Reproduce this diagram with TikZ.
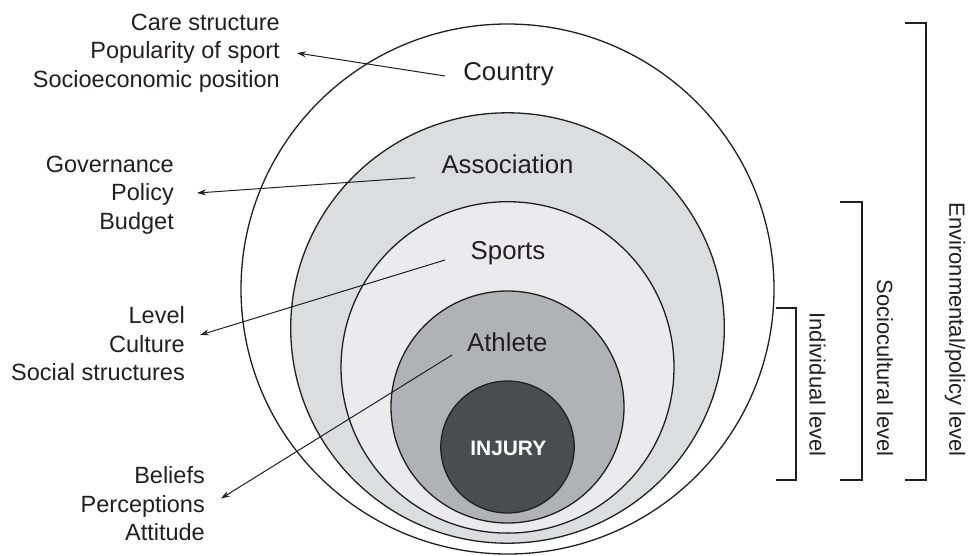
\documentclass[tikz,border=0pt]{standalone}
\usepackage{fontspec}
\setmainfont{Liberation Sans}
\usetikzlibrary{arrows.meta}
\definecolor{ink}{HTML}{231F20}
\definecolor{assocfill}{HTML}{DCDDDF}
\definecolor{sportfill}{HTML}{EBEBED}
\definecolor{athlfill}{HTML}{B1B2B5}
\definecolor{injfill}{HTML}{4B4C4F}
\begin{document}
\begin{tikzpicture}[x=1pt,y=-1pt,
  ring/.style={draw=ink,line width=1.3pt},
  circlabel/.style={anchor=base,inner sep=0pt,text=ink,font=\fontsize{25.8}{30}\selectfont},
  sidelabel/.style={anchor=east,inner sep=0pt,align=right,text=ink,font=\fontsize{23.5}{28.5}\selectfont},
  levellabel/.style={anchor=east,rotate=-90,inner sep=0pt,text=ink,font=\fontsize{22}{26}\selectfont},
  arr/.style={draw=ink,line width=1pt,-{Stealth[length=9pt,width=6pt]}},
  bracket/.style={draw=ink,line width=1.3pt}]
\useasboundingbox (0,0) rectangle (968,555);
% circles
\draw[ring,fill=white] (507.5,289) ellipse [x radius=266.5pt, y radius=265pt];
\draw[ring,fill=assocfill] (507.5,328) ellipse [x radius=216.8pt, y radius=215.2pt];
\draw[ring,fill=sportfill] (507.5,367.4) ellipse [x radius=166.5pt, y radius=165.7pt];
\draw[ring,fill=athlfill] (507.5,407) ellipse [x radius=116.5pt, y radius=116pt];
\draw[ring,fill=injfill] (507.5,447) ellipse [x radius=66.7pt, y radius=66pt];
% circle labels
\node[circlabel] (country) at (508.5,80.5) {Country};
\node[circlabel] (assoc) at (507.5,173.5) {Association};
\node[circlabel] (sports) at (508,259.3) {Sports};
\node[circlabel] (athlete) at (507.2,351.5) {Athlete};
\node[anchor=base,inner sep=0pt,text=white,font=\fontsize{20.9}{24}\selectfont\bfseries] (injury) at (508.3,455.7) {INJURY};
% side labels
\node[sidelabel] (g1) at (280,53) {Care structure\\Popularity of sport\\Socioeconomic position};
\node[sidelabel] (g2) at (174,195) {Governance\\Policy\\Budget};
\node[sidelabel] (g3) at (185,344) {Level\\Culture\\Social structures};
\node[sidelabel] (g4) at (205,504) {Beliefs\\Perceptions\\Attitude};
% arrows
\coordinate (s1) at (445,76);  \coordinate (t1) at (297,53);
\coordinate (s2) at (415,177.7); \coordinate (t2) at (197,193);
\coordinate (s3) at (445,260); \coordinate (t3) at (200,335);
\coordinate (s4) at (452,355); \coordinate (t4) at (221,498.5);
\draw[arr] (s1) -- (t1);
\draw[arr] (s2) -- (t2);
\draw[arr] (s3) -- (t3);
\draw[arr] (s4) -- (t4);
% brackets
\draw[bracket] (905,23) -- (926,23) -- (926,480) -- (905,480);
\draw[bracket] (840,202) -- (862,202) -- (862,480) -- (840,480);
\draw[bracket] (776,308) -- (796,308) -- (796,480) -- (776,480);
\node[levellabel] (env) at (955,457) {Environmental/policy level};
\node[levellabel] (soc) at (885,457) {Sociocultural level};
\node[levellabel] (ind) at (817.5,457) {Individual level};
\end{tikzpicture}
\end{document}
